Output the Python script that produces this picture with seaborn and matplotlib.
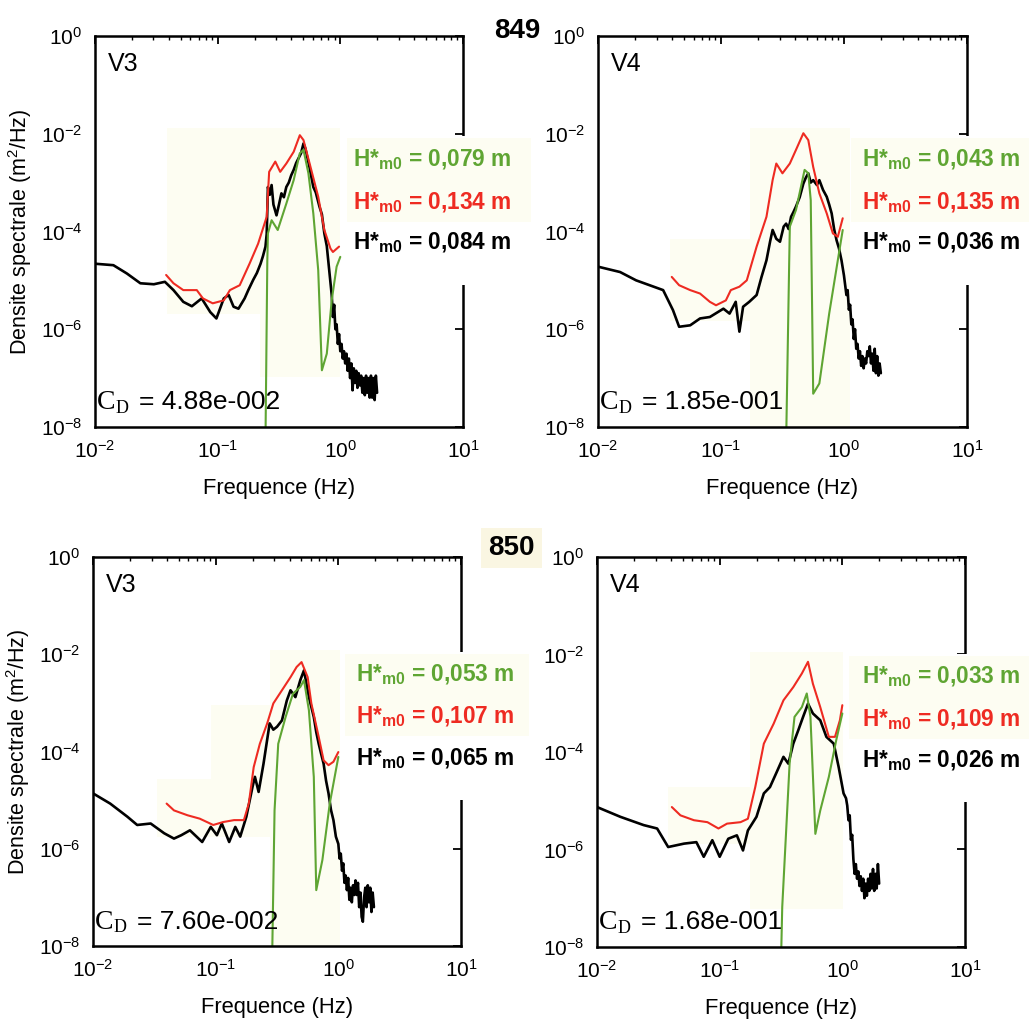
import numpy as np
import matplotlib
matplotlib.use("Agg")
import matplotlib.pyplot as plt
from matplotlib.patches import Rectangle
from matplotlib.ticker import LogLocator, NullLocator, FixedLocator, FixedFormatter
import seaborn as sns

sns.set_theme(style="white")
plt.rcParams["font.family"] = ["Liberation Sans", "DejaVu Sans"]
plt.rcParams["mathtext.fontset"] = "custom"
plt.rcParams["mathtext.rm"] = "Liberation Sans"
plt.rcParams["mathtext.it"] = "Liberation Sans:italic"
plt.rcParams["mathtext.bf"] = "Liberation Sans:bold"
plt.rcParams["mathtext.default"] = "regular"
for key in ["text.color", "axes.labelcolor", "xtick.color", "ytick.color"]:
    plt.rcParams[key] = "black"

# ---------------------------------------------------------------------------
# Spectra, stored as (log10 frequency [Hz], log10 density [m^2/Hz]) pairs
# ---------------------------------------------------------------------------
black_849_v3 = [
    (-2.00, -4.66), (-1.85, -4.69), (-1.74, -4.86), (-1.63, -5.06), (-1.52, -5.08),
    (-1.43, -5.03), (-1.36, -5.20), (-1.28, -5.44), (-1.21, -5.53), (-1.13, -5.37),
    (-1.06, -5.65), (-1.01, -5.78), (-0.95, -5.37), (-0.91, -5.30), (-0.87, -5.54),
    (-0.83, -5.58), (-0.78, -5.37), (-0.75, -5.20), (-0.71, -4.99), (-0.68, -4.85),
    (-0.65, -4.66), (-0.63, -4.50), (-0.61, -4.31), (-0.60, -4.05), (-0.59, -3.09),
    (-0.575, -3.25), (-0.56, -3.05), (-0.545, -3.45), (-0.52, -3.67), (-0.50, -3.45),
    (-0.48, -3.22), (-0.46, -3.30), (-0.44, -3.09), (-0.42, -3.00), (-0.40, -2.85),
    (-0.38, -2.74), (-0.36, -2.60), (-0.34, -2.50), (-0.32, -2.40), (-0.30, -2.20),
    (-0.285, -2.30), (-0.27, -2.47), (-0.25, -2.70), (-0.22, -3.09), (-0.20, -3.20),
    (-0.17, -3.49), (-0.15, -3.65), (-0.13, -4.04), (-0.11, -4.30), (-0.09, -4.80),
    (-0.07, -5.30), (-0.06, -5.75), (-0.05, -5.50), (-0.04, -6.00), (-0.03, -5.90),
    (-0.02, -6.30), (-0.01, -6.10), (0.00, -6.45), (0.01, -6.30), (0.02, -6.60),
    (0.03, -6.45), (0.04, -6.70), (0.05, -6.50), (0.06, -6.85), (0.07, -6.60),
    (0.08, -7.00), (0.09, -6.70), (0.10, -7.25), (0.11, -6.80), (0.12, -7.10),
    (0.13, -6.85), (0.14, -7.20), (0.15, -6.90), (0.16, -7.15), (0.17, -6.95),
    (0.18, -7.30), (0.19, -7.00), (0.20, -7.35), (0.21, -6.95), (0.22, -7.30),
    (0.23, -7.00), (0.24, -7.40), (0.25, -6.95), (0.26, -7.40), (0.27, -7.00),
    (0.28, -7.45), (0.29, -6.95), (0.30, -7.30),
]
red_849_v3 = [
    (-1.42, -4.89), (-1.36, -5.06), (-1.28, -5.20), (-1.17, -5.20), (-1.12, -5.37),
    (-1.04, -5.47), (-0.95, -5.41), (-0.90, -5.20), (-0.82, -5.10), (-0.74, -4.66),
    (-0.67, -4.25), (-0.60, -3.70), (-0.58, -2.78), (-0.53, -2.57), (-0.49, -2.78),
    (-0.44, -2.61), (-0.38, -2.37), (-0.33, -2.03), (-0.30, -2.13), (-0.25, -2.61),
    (-0.18, -3.29), (-0.13, -3.97), (-0.08, -4.35), (-0.06, -4.42), (-0.01, -4.31),
]
green_849_v3 = [
    (-0.61, -8.30), (-0.595, -4.60), (-0.59, -4.04), (-0.56, -3.77), (-0.51, -3.97),
    (-0.44, -3.43), (-0.38, -2.95), (-0.33, -2.40), (-0.30, -2.33), (-0.26, -2.81),
    (-0.22, -3.63), (-0.18, -4.79), (-0.15, -6.84), (-0.11, -6.50), (-0.07, -5.41),
    (-0.03, -4.72), (0.00, -4.52),
]

black_849_v4 = [
    (-2.00, -4.72), (-1.82, -4.83), (-1.69, -5.00), (-1.58, -5.10), (-1.47, -5.20),
    (-1.39, -5.61), (-1.34, -5.95), (-1.25, -5.92), (-1.17, -5.78), (-1.09, -5.75),
    (-0.98, -5.58), (-0.93, -5.68), (-0.88, -5.44), (-0.85, -6.05), (-0.82, -5.54),
    (-0.77, -5.44), (-0.71, -5.30), (-0.67, -4.93), (-0.63, -4.59), (-0.60, -4.20),
    (-0.58, -3.97), (-0.55, -4.15), (-0.52, -4.21), (-0.49, -3.90), (-0.47, -3.84),
    (-0.45, -3.95), (-0.43, -3.70), (-0.41, -3.60), (-0.39, -3.49), (-0.36, -3.30),
    (-0.33, -3.02), (-0.31, -2.90), (-0.29, -2.81), (-0.27, -3.00), (-0.25, -2.95),
    (-0.22, -3.05), (-0.20, -2.95), (-0.17, -3.15), (-0.14, -3.29), (-0.12, -3.45),
    (-0.10, -3.63), (-0.08, -3.95), (-0.06, -4.18), (-0.04, -4.35), (-0.02, -4.59),
    (0.00, -4.90), (0.01, -5.10), (0.02, -5.30), (0.03, -5.20), (0.04, -5.60),
    (0.05, -5.50), (0.06, -5.90), (0.07, -5.80), (0.08, -6.20), (0.09, -6.00),
    (0.10, -6.40), (0.11, -6.30), (0.12, -6.60), (0.13, -6.45), (0.14, -6.75),
    (0.15, -6.55), (0.16, -6.80), (0.17, -6.60), (0.18, -6.70), (0.19, -6.45),
    (0.20, -6.55), (0.21, -6.35), (0.22, -6.70), (0.23, -6.50), (0.24, -6.85),
    (0.25, -6.40), (0.26, -6.90), (0.27, -6.55), (0.28, -6.95), (0.29, -6.70),
    (0.30, -6.90),
]
red_849_v4 = [
    (-1.40, -4.93), (-1.34, -5.10), (-1.25, -5.20), (-1.17, -5.27), (-1.09, -5.44),
    (-1.04, -5.51), (-0.96, -5.41), (-0.92, -5.20), (-0.85, -5.13), (-0.79, -5.00),
    (-0.71, -4.31), (-0.63, -3.70), (-0.58, -2.95), (-0.55, -2.61), (-0.50, -2.81),
    (-0.44, -2.61), (-0.39, -2.33), (-0.33, -1.99), (-0.29, -2.13), (-0.25, -2.68),
    (-0.20, -3.22), (-0.14, -3.63), (-0.09, -4.04), (-0.05, -4.11), (-0.01, -3.73),
]
green_849_v4 = [
    (-0.47, -8.30), (-0.445, -4.60), (-0.44, -3.90), (-0.39, -3.56), (-0.32, -2.74),
    (-0.29, -2.81), (-0.27, -3.36), (-0.25, -7.32), (-0.20, -7.11), (-0.12, -5.68),
    (-0.05, -4.59), (-0.01, -3.97),
]

black_850_v3 = [
    (-2.00, -4.86), (-1.86, -5.07), (-1.72, -5.34), (-1.64, -5.51), (-1.53, -5.48),
    (-1.42, -5.68), (-1.34, -5.79), (-1.28, -5.72), (-1.21, -5.62), (-1.11, -5.86),
    (-1.04, -5.55), (-0.99, -5.72), (-0.95, -5.48), (-0.89, -5.86), (-0.84, -5.55),
    (-0.80, -5.75), (-0.75, -5.34), (-0.70, -4.73), (-0.68, -4.52), (-0.65, -4.83),
    (-0.61, -4.25), (-0.56, -3.42), (-0.53, -3.55), (-0.50, -3.49), (-0.46, -3.36),
    (-0.42, -2.95), (-0.39, -2.74), (-0.35, -2.88), (-0.31, -2.53), (-0.28, -2.33),
    (-0.24, -2.88), (-0.20, -3.29), (-0.18, -3.60), (-0.16, -3.84), (-0.14, -4.05),
    (-0.12, -4.25), (-0.10, -4.60), (-0.08, -4.86), (-0.06, -5.20), (-0.04, -5.41),
    (-0.02, -5.75), (0.00, -5.90), (0.01, -6.20), (0.02, -6.10), (0.03, -6.45),
    (0.04, -6.30), (0.05, -6.70), (0.06, -6.55), (0.07, -6.85), (0.08, -6.60),
    (0.09, -7.05), (0.10, -6.80), (0.11, -7.10), (0.12, -6.75), (0.13, -6.95),
    (0.14, -6.65), (0.15, -6.95), (0.16, -6.70), (0.17, -7.20), (0.18, -6.90),
    (0.19, -7.40), (0.20, -7.50), (0.21, -7.00), (0.22, -6.80), (0.23, -7.20),
    (0.24, -6.75), (0.25, -7.10), (0.26, -6.80), (0.27, -7.30), (0.28, -6.90),
    (0.29, -7.20),
]
red_850_v3 = [
    (-1.40, -5.07), (-1.34, -5.21), (-1.23, -5.31), (-1.13, -5.38), (-1.02, -5.51),
    (-0.94, -5.45), (-0.85, -5.41), (-0.77, -5.41), (-0.73, -5.07), (-0.69, -4.32),
    (-0.64, -3.84), (-0.58, -3.42), (-0.53, -3.01), (-0.46, -2.74), (-0.39, -2.47),
    (-0.34, -2.26), (-0.30, -2.16), (-0.25, -2.47), (-0.22, -3.01), (-0.16, -3.70),
    (-0.12, -4.18), (-0.08, -4.28), (-0.04, -4.21), (0.00, -4.01),
]
green_850_v3 = [
    (-0.54, -8.30), (-0.52, -5.21), (-0.49, -3.84), (-0.43, -3.29), (-0.37, -2.81),
    (-0.31, -2.67), (-0.28, -2.53), (-0.24, -3.15), (-0.20, -4.52), (-0.18, -6.85),
    (-0.13, -6.23), (-0.07, -5.07), (0.00, -4.11),
]

black_850_v4 = [
    (-2.00, -5.13), (-1.81, -5.33), (-1.62, -5.50), (-1.51, -5.57), (-1.42, -5.95),
    (-1.29, -5.88), (-1.19, -5.85), (-1.13, -6.15), (-1.06, -5.81), (-1.00, -6.15),
    (-0.93, -5.78), (-0.86, -5.71), (-0.81, -6.02), (-0.77, -5.61), (-0.70, -5.33),
    (-0.64, -4.85), (-0.59, -4.72), (-0.54, -4.44), (-0.48, -4.10), (-0.44, -4.24),
    (-0.40, -3.83), (-0.36, -3.56), (-0.32, -3.28), (-0.28, -3.01), (-0.24, -3.21),
    (-0.18, -3.35), (-0.13, -3.69), (-0.07, -3.83), (-0.03, -4.31), (0.01, -4.85),
    (0.03, -4.95), (0.04, -5.10), (0.05, -5.40), (0.06, -5.30), (0.07, -5.80),
    (0.08, -5.70), (0.09, -6.20), (0.10, -6.50), (0.11, -6.30), (0.12, -6.60),
    (0.13, -6.45), (0.14, -6.75), (0.15, -6.55), (0.16, -6.85), (0.17, -6.60),
    (0.18, -7.00), (0.19, -6.70), (0.20, -6.95), (0.21, -6.60), (0.22, -6.85),
    (0.23, -6.50), (0.24, -6.80), (0.25, -6.40), (0.26, -6.85), (0.27, -6.50),
    (0.28, -6.80), (0.29, -6.30), (0.30, -6.70),
]
red_850_v4 = [
    (-1.39, -5.13), (-1.32, -5.30), (-1.21, -5.40), (-1.10, -5.44), (-1.01, -5.57),
    (-0.94, -5.47), (-0.83, -5.44), (-0.77, -5.37), (-0.71, -4.72), (-0.64, -3.83),
    (-0.56, -3.42), (-0.48, -2.94), (-0.40, -2.67), (-0.33, -2.39), (-0.28, -2.15),
    (-0.24, -2.60), (-0.18, -3.08), (-0.11, -3.69), (-0.06, -3.69), (-0.02, -3.35),
    (0.00, -3.04),
]
green_850_v4 = [
    (-0.50, -8.30), (-0.49, -7.18), (-0.43, -4.24), (-0.39, -3.28), (-0.33, -3.08),
    (-0.29, -2.80), (-0.26, -3.28), (-0.22, -5.68), (-0.18, -5.20), (-0.11, -4.51),
    (-0.05, -3.76), (0.00, -3.21),
]

# Significant wave heights (m) and drag coefficients per panel
hm0_green = ["0,079", "0,043", "0,053", "0,033"]
hm0_red = ["0,134", "0,135", "0,107", "0,109"]
hm0_black = ["0,084", "0,036", "0,065", "0,026"]
cd_values = ["4.88e-002", "1.85e-001", "7.60e-002", "1.68e-001"]
gauges = ["V3", "V4", "V3", "V4"]
runs = ["849", "850"]

x_ticks = [1e-2, 1e-1, 1e0, 1e1]
x_tick_labels = ["$10^{-2}$", "$10^{-1}$", "$10^{0}$", "$10^{1}$"]
y_ticks = [1e-8, 1e-6, 1e-4, 1e-2, 1e0]
y_tick_labels = ["$10^{-8}$", "$10^{-6}$", "$10^{-4}$", "$10^{-2}$", "$10^{0}$"]

GREEN = "#5fa533"
RED = "#ee2b22"
BLACK = "#000000"
TINT = "#fdfdf2"

panels = [
    (black_849_v3, red_849_v3, green_849_v3),
    (black_849_v4, red_849_v4, green_849_v4),
    (black_850_v3, red_850_v3, green_850_v3),
    (black_850_v4, red_850_v4, green_850_v4),
]

# axes placement in figure fraction: left, bottom, width, height
positions = [
    (0.0923, 0.581, 0.3576, 0.3837),
    (0.5811, 0.581, 0.3586, 0.3837),
    (0.0904, 0.0716, 0.3576, 0.3817),
    (0.5802, 0.0707, 0.3576, 0.3827),
]
# faint highlighted zones behind the spectra (axes fraction: x0, y0, w, h)
tint_zones = [
    [(0.195, 0.29, 0.471, 0.474), (0.448, 0.128, 0.218, 0.17)],
    [(0.194, 0.27, 0.25, 0.21), (0.412, 0.0, 0.27, 0.764)],
    [(0.175, 0.28, 0.20, 0.15), (0.32, 0.28, 0.35, 0.34), (0.48, 0.0, 0.19, 0.76)],
    [(0.194, 0.265, 0.475, 0.145), (0.416, 0.098, 0.253, 0.658)],
]
label_y = [(0.683, 0.575, 0.471), (0.683, 0.575, 0.471),
           (0.697, 0.589, 0.483), (0.692, 0.582, 0.479)]
label_x = [0.70, 0.715, 0.715, 0.72]

fig = plt.figure(figsize=(10.29, 10.19), dpi=100)
fig.patch.set_facecolor("white")


def to_xy(series):
    arr = np.array(series)
    return 10 ** arr[:, 0], 10 ** arr[:, 1]


for i, (series, pos) in enumerate(zip(panels, positions)):
    ax = fig.add_axes(pos)
    ax.set_facecolor("white")
    ax.set_xscale("log")
    ax.set_yscale("log")

    for (x0, y0, w, h) in tint_zones[i]:
        ax.add_patch(Rectangle((x0, y0), w, h, transform=ax.transAxes,
                               facecolor=TINT, edgecolor="none", zorder=0.5))

    black, red, green = series
    for data, color, lw, z in [(red, RED, 1.5, 2.2), (black, BLACK, 1.9, 2.1),
                               (green, GREEN, 1.5, 2.3)]:
        fx, sy = to_xy(data)
        sns.lineplot(x=fx, y=sy, ax=ax, color=color, linewidth=lw,
                     estimator=None, sort=False, zorder=z)

    ax.set_xlim(1e-2, 1e1)
    ax.set_ylim(1e-8, 1e0)
    ax.xaxis.set_major_locator(FixedLocator(x_ticks))
    ax.xaxis.set_major_formatter(FixedFormatter(x_tick_labels))
    ax.xaxis.set_minor_locator(LogLocator(base=10, subs=np.arange(2, 10), numticks=20))
    ax.yaxis.set_major_locator(FixedLocator(y_ticks))
    ax.yaxis.set_major_formatter(FixedFormatter(y_tick_labels))
    ax.yaxis.set_minor_locator(NullLocator())
    ax.tick_params(which="major", direction="in", length=6, width=1.3,
                   top=True, right=True, labelsize=15, pad=9, colors="black")
    ax.tick_params(which="minor", direction="in", length=3, width=1.0,
                   top=True, right=True)
    for sp in ax.spines.values():
        sp.set_visible(True)
        sp.set_color("black")
        sp.set_linewidth(1.8)

    ax.set_xlabel("Frequence (Hz)", fontsize=15.8)
    ax.xaxis.set_label_coords(0.5, -0.13)
    if i % 2 == 0:
        ax.set_ylabel("Densite spectrale (m$^2$/Hz)", fontsize=15.5)
        ax.yaxis.set_label_coords(-0.165, 0.5)
    else:
        ax.set_ylabel("")

    ax.text(0.035, 0.96, gauges[i], transform=ax.transAxes, fontsize=18,
            va="top", ha="left")

    # panel for the wave-height labels, drawn over the right frame
    gap_top = label_y[i][0] + 0.06
    ax.add_patch(Rectangle((0.685, label_y[i][2] - 0.108), 0.52,
                           gap_top - (label_y[i][2] - 0.108),
                           transform=ax.transAxes, facecolor="white",
                           edgecolor="none", zorder=2.6, clip_on=False))
    ax.add_patch(Rectangle((0.685, label_y[i][1] - 0.05), 0.50,
                           label_y[i][0] - label_y[i][1] + 0.105,
                           transform=ax.transAxes, facecolor=TINT,
                           edgecolor="none", zorder=2.65, clip_on=False))
    for val, color, yy in zip([hm0_green[i], hm0_red[i], hm0_black[i]],
                              [GREEN, RED, BLACK], label_y[i]):
        ax.text(label_x[i], yy, "H*$_{\\mathbf{m0}}$ = " + val + " m",
                transform=ax.transAxes, fontsize=16.3, fontweight="bold",
                color=color, va="center", ha="left", zorder=3, clip_on=False)

    # drag coefficient
    ax.text(0.005, 0.045, "C", transform=ax.transAxes, fontsize=20,
            family="Liberation Serif", va="baseline", ha="left", zorder=3)
    ax.text(0.057, 0.035, "D", transform=ax.transAxes, fontsize=13,
            family="Liberation Serif", va="baseline", ha="left", zorder=3)
    ax.text(0.12, 0.045, "= " + cd_values[i], transform=ax.transAxes,
            fontsize=19, va="baseline", ha="left", zorder=3)

fig.text(0.503, 0.970, runs[0], fontsize=20, fontweight="bold",
         ha="center", va="center")
fig.text(0.497, 0.462, runs[1], fontsize=20, fontweight="bold",
         ha="center", va="center",
         bbox=dict(facecolor="#faf6e2", edgecolor="none", pad=5))

fig.savefig("out.png", dpi=100, facecolor="white")
